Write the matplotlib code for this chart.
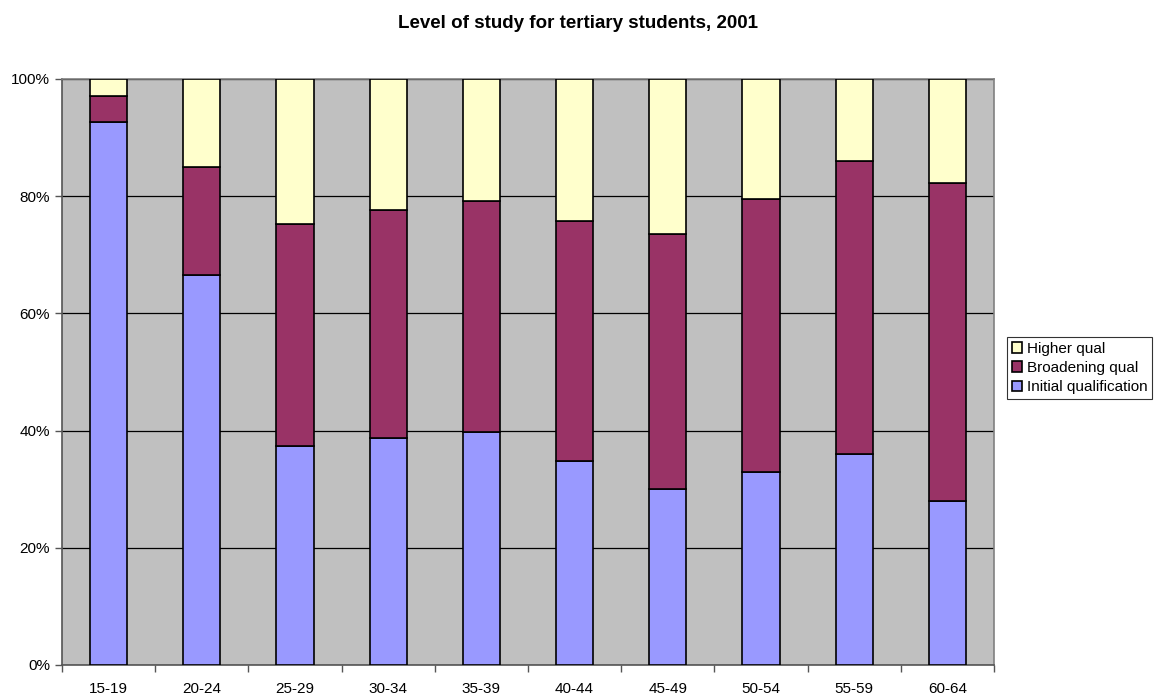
import matplotlib
matplotlib.use("Agg")
import matplotlib.pyplot as plt
from matplotlib.ticker import FuncFormatter, FixedLocator
import numpy as np

plt.rcParams["font.family"] = ["Liberation Sans", "DejaVu Sans"]

# Data (percent of tertiary students by age group)
ages = ["15-19", "20-24", "25-29", "30-34", "35-39",
        "40-44", "45-49", "50-54", "55-59", "60-64"]
initial = [92.7, 66.6, 37.3, 38.8, 39.8, 34.8, 30.1, 33.0, 36.0, 28.0]
broadening_top = [97.1, 84.9, 75.3, 77.6, 79.1, 75.8, 73.6, 79.6, 86.0, 82.3]
broadening = [b - i for b, i in zip(broadening_top, initial)]
higher = [100 - b for b in broadening_top]

fig = plt.figure(figsize=(11.56, 6.94), dpi=100)
ax = fig.add_axes([62 / 1156, 29 / 694, 932 / 1156, 586 / 694])
ax.set_facecolor("#C0C0C0")

x = np.arange(len(ages))
w = 0.4
kw = dict(width=w, edgecolor="black", linewidth=1.2, zorder=3)
b1 = ax.bar(x, initial, color="#9999FF", label="Initial qualification", **kw)
b2 = ax.bar(x, broadening, bottom=initial, color="#993366",
            label="Broadening qual", **kw)
b3 = ax.bar(x, higher, bottom=broadening_top, color="#FFFFCC",
            label="Higher qual", **kw)

ax.set_xlim(-0.5, len(ages) - 0.5)
ax.set_ylim(0, 100)
ax.set_yticks(np.arange(0, 101, 20))
ax.yaxis.set_major_formatter(FuncFormatter(lambda v, p: f"{v:.0f}%"))
ax.yaxis.grid(True, color="black", linewidth=0.9, zorder=1)
ax.set_axisbelow(True)

# category labels centred, ticks at boundaries
ax.set_xticks(x)
ax.set_xticklabels(ages, fontsize=11)
ax.tick_params(axis="x", length=0, pad=12)
ax.xaxis.set_minor_locator(FixedLocator(np.arange(-0.5, len(ages), 1)))
ax.tick_params(axis="x", which="minor", length=5, color="#555555", width=1)
ax.tick_params(axis="y", length=5, color="#555555", width=1, labelsize=11)

for s in ["left", "bottom"]:
    ax.spines[s].set_color("#555555")
    ax.spines[s].set_linewidth(1.2)
for s in ["top", "right"]:
    ax.spines[s].set_color("#808080")
    ax.spines[s].set_linewidth(1.2)

fig.suptitle("Level of study for tertiary students, 2001", fontsize=13.5,
             fontweight="bold", y=1 - 23 / 694, va="center")

leg = fig.legend(handles=[b3, b2, b1], loc="upper left",
                 bbox_to_anchor=(1007 / 1156, 1 - 337 / 694),
                 fontsize=11, frameon=True, fancybox=False,
                 edgecolor="black", borderpad=0.3, labelspacing=0.35,
                 handlelength=0.7, handleheight=0.7, handletextpad=0.3,
                 borderaxespad=0)
leg.get_frame().set_linewidth(0.8)

fig.savefig("out.png", dpi=100)
